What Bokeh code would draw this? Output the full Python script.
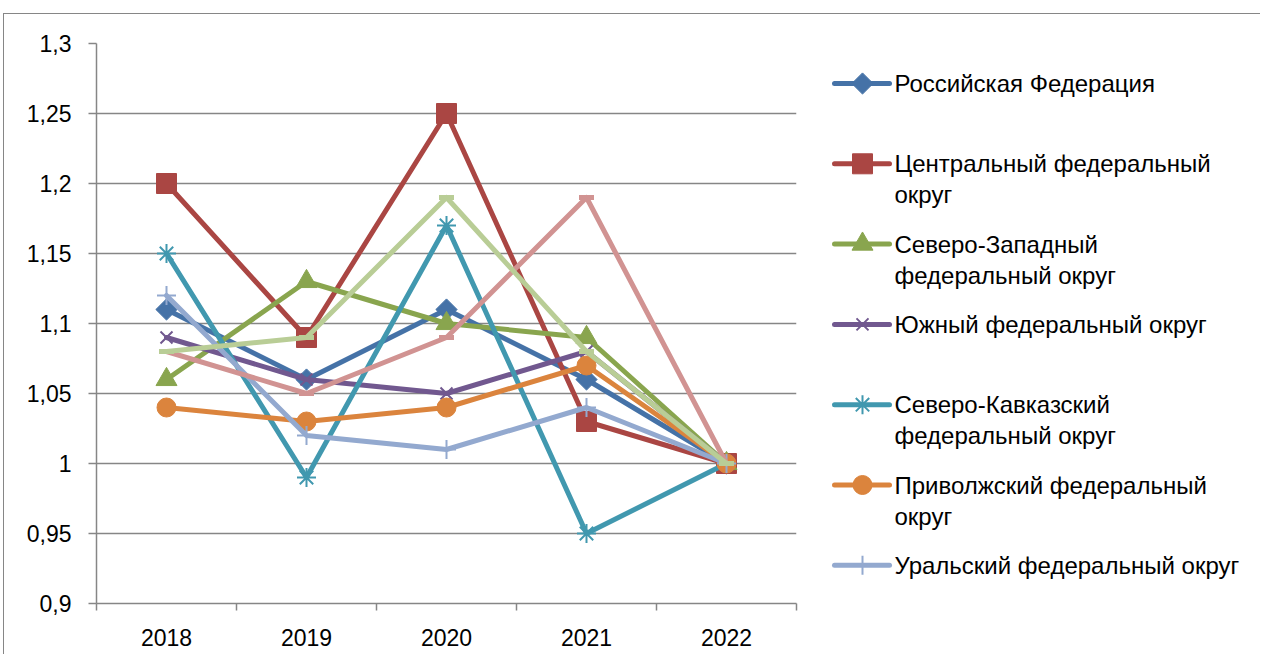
import math
from bokeh.plotting import figure
from bokeh.layouts import row
from bokeh.models import Range1d, FixedTicker
from bokeh.core.properties import value
from bokeh.embed import file_html
from bokeh.resources import INLINE

# ---------------- data ----------------
years = ["2018", "2019", "2020", "2021", "2022"]
series_names = [
    "Российская Федерация",
    "Центральный федеральный округ",
    "Северо-Западный федеральный округ",
    "Южный федеральный округ",
    "Северо-Кавказский федеральный округ",
    "Приволжский федеральный округ",
    "Уральский федеральный округ",
    "Сибирский федеральный округ",
    "Дальневосточный федеральный округ",
]
rf = [1.11, 1.06, 1.11, 1.06, 1.00]
cfo = [1.20, 1.09, 1.25, 1.03, 1.00]
szfo = [1.06, 1.13, 1.10, 1.09, 1.00]
yufo = [1.09, 1.06, 1.05, 1.08, 1.00]
skfo = [1.15, 0.99, 1.17, 0.95, 1.00]
pfo = [1.04, 1.03, 1.04, 1.07, 1.00]
urfo = [1.12, 1.02, 1.01, 1.04, 1.00]
sfo = [1.08, 1.05, 1.09, 1.19, 1.00]
dfo = [1.08, 1.09, 1.19, 1.08, 1.00]
series_values = [rf, cfo, szfo, yufo, skfo, pfo, urfo, sfo, dfo]

# legend text as shown (wrapped lines), only the visible entries
legend_lines = [
    ["Российская Федерация"],
    ["Центральный федеральный", "округ"],
    ["Северо-Западный", "федеральный округ"],
    ["Южный федеральный округ"],
    ["Северо-Кавказский", "федеральный округ"],
    ["Приволжский федеральный", "округ"],
    ["Уральский федеральный округ"],
]

y_ticks = [0.9, 0.95, 1.0, 1.05, 1.1, 1.15, 1.2, 1.25, 1.3]
y_tick_labels = ["0,9", "0,95", "1", "1,05", "1,1", "1,15", "1,2", "1,25", "1,3"]

# ---------------- styles ----------------
colors = ["#4572A7", "#AA4643", "#89A54E", "#71588F", "#4198AF",
          "#DB843D", "#93A9CF", "#D19392", "#B9CD96"]
markers = ["square", "square", "triangle", "x", "asterisk",
           "circle", "cross", "dash", "dash"]
marker_sizes = [15, 20, 21, 17, 19, 19, 19, 15, 15]
marker_angles = [math.pi / 4, 0, 0, 0, 0, 0, 0, 0, 0]
marker_lw = [1, 1, 1, 2, 2, 1, 2, 5, 5]
FONT = "Liberation Sans"
GRID = "#868686"

x_idx = list(range(len(years)))

TOP, BOTTOM = 29, 51
p = figure(width=811, height=640, output_backend="svg", toolbar_location=None,
           x_range=Range1d(-0.5, len(years) - 0.5),
           y_range=Range1d(y_ticks[0], y_ticks[-1]),
           min_border_left=92, min_border_right=19,
           min_border_top=TOP, min_border_bottom=BOTTOM)
p.outline_line_color = None
p.background_fill_color = "white"
p.border_fill_color = "white"

# x axis: labels at category centres, tick marks at category boundaries
p.xaxis.ticker = FixedTicker(ticks=x_idx,
                             minor_ticks=[i - 0.5 for i in range(len(years) + 1)])
p.xaxis.major_label_overrides = {i: y for i, y in zip(x_idx, years)}
p.xaxis.major_tick_line_color = None
p.xaxis.major_tick_out = 0
p.xaxis.major_tick_in = 0
p.xaxis.minor_tick_out = 7
p.xaxis.minor_tick_in = 0
p.xaxis.minor_tick_line_color = GRID
p.xaxis.minor_tick_line_width = 1.5
p.xaxis.axis_line_color = GRID
p.xaxis.axis_line_width = 1.5
p.xaxis.major_label_standoff = 18
p.xgrid.grid_line_color = None

p.yaxis.ticker = FixedTicker(ticks=y_ticks, minor_ticks=[])
p.yaxis.major_label_overrides = {t: l for t, l in zip(y_ticks, y_tick_labels)}
p.yaxis.major_tick_out = 8
p.yaxis.major_tick_in = 0
p.yaxis.major_tick_line_color = GRID
p.yaxis.major_tick_line_width = 1.5
p.yaxis.axis_line_color = GRID
p.yaxis.axis_line_width = 1.5
p.yaxis.major_label_standoff = 17
p.ygrid.grid_line_color = GRID
p.ygrid.grid_line_width = 1.5

for ax in (p.xaxis, p.yaxis):
    ax.major_label_text_font = FONT
    ax.major_label_text_font_size = "23px"
    ax.major_label_text_color = "#000000"

for name, vals, c, m, s, a, lw in zip(series_names, series_values, colors,
                                      markers, marker_sizes, marker_angles, marker_lw):
    p.line(x_idx, vals, line_color=c, line_width=5, line_join="round", line_cap="round")
    p.scatter(x_idx, vals, marker=m, size=s, angle=a, fill_color=c,
              line_color=c, line_width=lw)

# ---------------- legend (own panel; pixel coordinates inside its frame) ----------------
LW, FH = 445, 640 - TOP - BOTTOM
lg = figure(width=LW, height=640, output_backend="svg", toolbar_location=None,
            x_axis_type=None, y_axis_type=None,
            x_range=Range1d(0, LW), y_range=Range1d(FH, 0),
            min_border_left=0, min_border_right=0,
            min_border_top=TOP, min_border_bottom=BOTTOM)
lg.grid.grid_line_color = None
lg.outline_line_color = None
lg.border_fill_color = "white"

for i, lines in enumerate(legend_lines):
    yy = 40 + 80.3 * i
    c = colors[i]
    lg.segment(x0=[19], y0=[yy], x1=[74], y1=[yy], line_color=c, line_width=5,
               line_cap="round")
    lg.scatter([47], [yy], marker=markers[i], size=marker_sizes[i],
               angle=marker_angles[i], fill_color=c, line_color=c,
               line_width=marker_lw[i])
    for j, t in enumerate(lines):
        lg.text([79], [yy + 31 * j], text=[t], text_font=value(FONT),
                text_font_size="24px", text_color="#000000",
                text_baseline="middle", text_align="left")

layout = row(p, lg, styles={"border-top": "1px solid #868686",
                            "border-left": "1px solid #868686",
                            "margin-top": "13px", "margin-left": "3px"})

open("out.html", "w").write(file_html(layout, INLINE))
